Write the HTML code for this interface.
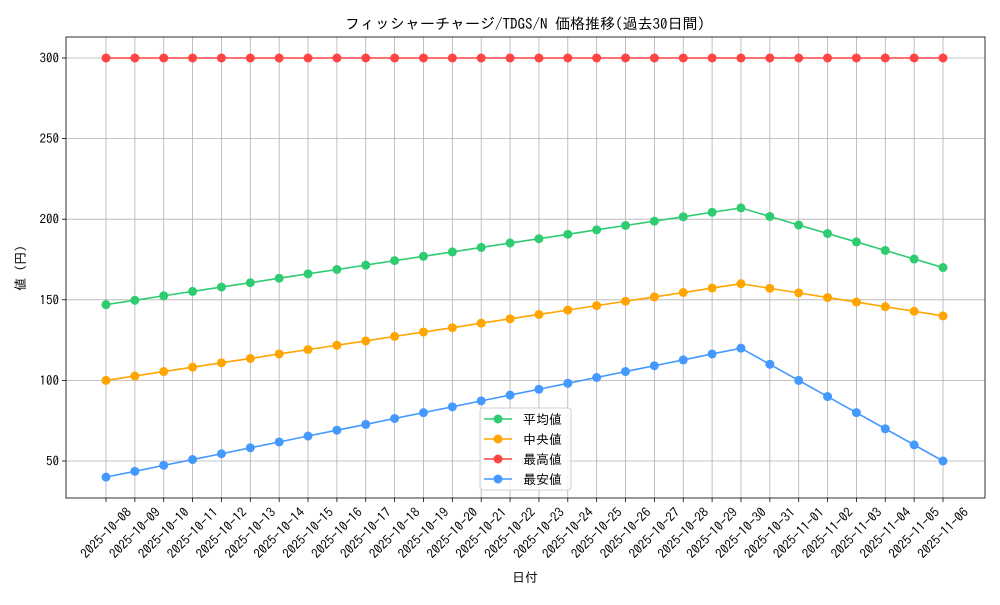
<!DOCTYPE html>
<html><head><meta charset="utf-8"><style>
body{margin:0;background:#fff;}
svg text{font-family:"IPAGothic","Noto Sans CJK JP",sans-serif;fill:#000;}
</style></head><body>
<svg id="chart" width="1000" height="600" xmlns="http://www.w3.org/2000/svg"></svg>
<script>
const dates=["2025-10-08","2025-10-09","2025-10-10","2025-10-11","2025-10-12","2025-10-13","2025-10-14","2025-10-15","2025-10-16","2025-10-17","2025-10-18","2025-10-19","2025-10-20","2025-10-21","2025-10-22","2025-10-23","2025-10-24","2025-10-25","2025-10-26","2025-10-27","2025-10-28","2025-10-29","2025-10-30","2025-10-31","2025-11-01","2025-11-02","2025-11-03","2025-11-04","2025-11-05","2025-11-06"];
const meanVals=[147,149.7,152.5,155.2,157.9,160.6,163.4,166.1,168.8,171.5,174.3,177,179.7,182.5,185.2,187.9,190.6,193.4,196.1,198.8,201.5,204.3,207,201.7,196.4,191.1,185.9,180.6,175.3,170];
const medianVals=[100,102.7,105.5,108.2,110.9,113.6,116.4,119.1,121.8,124.5,127.3,130,132.7,135.5,138.2,140.9,143.6,146.4,149.1,151.8,154.5,157.3,160,157.1,154.3,151.4,148.6,145.7,142.9,140];
const maxVals=[300,300,300,300,300,300,300,300,300,300,300,300,300,300,300,300,300,300,300,300,300,300,300,300,300,300,300,300,300,300];
const minVals=[40,43.6,47.3,50.9,54.5,58.2,61.8,65.5,69.1,72.7,76.4,80,83.6,87.3,90.9,94.5,98.2,101.8,105.5,109.1,112.7,116.4,120,110,100,90,80,70,60,50];
const yTicks=[50,100,150,200,250,300];

const NS="http://www.w3.org/2000/svg";
const svg=document.getElementById('chart');
function mk(t,a,p){const e=document.createElementNS(NS,t);for(const k in a)e.setAttribute(k,a[k]);(p||svg).appendChild(e);return e;}
const L=66,R=985,T=37,B=498;
const xS=i=>106+i*(943-106)/(dates.length-1);
const yS=v=>58+(300-v)*(403/250);

dates.forEach((d,i)=>{
  const g=mk('line',{x1:xS(i),x2:xS(i),y1:T,y2:B,stroke:'#b0b0b0','stroke-width':0.8});
  
  
  const tk=mk('line',{x1:xS(i),x2:xS(i),y1:B,y2:B+4,stroke:'#000','stroke-width':0.8});
  
  
  const x=xS(i),y=533;
  const t=mk('text',{x:x,y:y,'font-size':13,'text-anchor':'middle','dominant-baseline':'central',transform:`rotate(-45 ${x} ${y})`});
  t.textContent=d;
  
  
});
yTicks.forEach(v=>{
  const g=mk('line',{x1:L,x2:R,y1:yS(v),y2:yS(v),stroke:'#b0b0b0','stroke-width':0.8});
  
  
  mk('line',{x1:L-4,x2:L,y1:yS(v),y2:yS(v),stroke:'#000','stroke-width':0.8});
  const t=mk('text',{x:L-7,y:yS(v)+4.5,'font-size':13,'text-anchor':'end'});
  t.textContent=v;
  
  
});
const frame=mk('rect',{x:L,y:T,width:R-L,height:B-T,fill:'none',stroke:'#000','stroke-width':0.8});



const series=[[meanVals,'#2ecc71','mean-series'],[medianVals,'#ffa500','median-series'],[maxVals,'#ff4444','max-series'],[minVals,'#4499ff','min-series']];
series.forEach(([vals,c,n])=>{
  const g=mk('g',{});
  
  
  mk('polyline',{points:vals.map((v,i)=>xS(i)+','+yS(v)).join(' '),fill:'none',stroke:c,'stroke-width':1.6},g);
  vals.forEach((v,i)=>{
    const p=mk('circle',{cx:xS(i),cy:yS(v),r:4.5,fill:c},g);
    
    
  });
});

const lg=mk('g',{});


mk('rect',{x:480,y:408,width:91,height:82,rx:3,fill:'#fff','fill-opacity':0.8,stroke:'#d0d0d0'},lg);
const names=['平均値','中央値','最高値','最安値'];
series.forEach(([v,c],k)=>{
  const y=419+k*20;
  const e=mk('g',{},lg);
  
  
  mk('line',{x1:484,x2:512,y1:y,y2:y,stroke:c,'stroke-width':1.6},e);
  mk('circle',{cx:498,cy:y,r:4.5,fill:c},e);
  const t=mk('text',{x:523,y:y+5,'font-size':13},e);
  t.textContent=names[k];
});

const title=mk('text',{x:525,y:29,'font-size':15,'text-anchor':'middle'});
title.textContent='フィッシャーチャージ/TDGS/N 価格推移(過去30日間)';


const xl=mk('text',{x:525,y:582,'font-size':13,'text-anchor':'middle'});
xl.textContent='日付';


const yl=mk('text',{x:25,y:268,'font-size':13,'text-anchor':'middle',transform:'rotate(-90 25 268)'});
yl.textContent='値 (円)';


</script>
</body></html>
